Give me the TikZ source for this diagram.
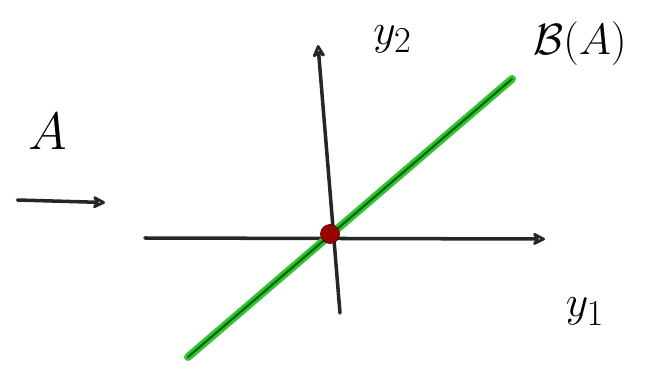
\documentclass[tikz,border=0pt]{standalone}
\usetikzlibrary{arrows.meta, positioning}

\begin{document}
\begin{tikzpicture}[
		% Estilo de los ejes
		eje/.style = {draw=black!85, line width=2pt, line cap=round},
		% Estilo de la recta imagen
		recta/.style = {draw=green!70!black!80, line width=4.5pt, line cap=round},
		etiqueta/.style = {font=\Huge, inner sep=1pt},
		>={Stealth[length=9pt, width=9pt, open, round]}
		]
		
		% --- MARCO ---
		\useasboundingbox (0,0) rectangle (13.04,7.38);
		
		% --- PUNTOS DE REFERENCIA ---
		\coordinate (origen) at (6.6,2.70);
		\coordinate (ejex_ini) at (2.9,2.62);
		\coordinate (ejex_fin) at (10.9,2.60);
		\coordinate (ejey_ini) at (6.8,1.12);
		\coordinate (ejey_fin) at (6.36,6.48);
		\coordinate (recta_ini) at (3.76,0.24);
		\coordinate (recta_fin) at (10.24,5.80);
		
		% --- EJES ---
		\draw [eje, ->] (ejex_ini) -- (ejex_fin);
		\draw [eje, ->] (ejey_ini) -- (ejey_fin);
		
		% --- RECTA B(A) ---
		\draw [recta] (recta_ini) -- (recta_fin);
		\draw [draw=black!60!green, line width=1.2pt, line cap=round] (recta_ini) -- (recta_fin);
		
		% --- ORIGEN ---
		\node [circle, fill=red!60!black, draw=red!40!black, minimum size=0.38cm, inner sep=0pt] (punto) at (origen) {};
		
		% --- ETIQUETAS ---
		\node [etiqueta] (y_dos) at (7.85,6.6) {$y_2$};
		\node [etiqueta] (y_uno) at (11.7,1.15) {$y_1$};
		\node [etiqueta] (imagen) at (11.6,6.5) {$\mathcal{B}(A)$};
		\node [font=\Huge, scale=1.2] (mat_a) at (0.95,4.75) {$A$};
		
		% --- FLECHA DE A ---
		\coordinate (flecha_ini) at (0.35,3.38);
		\coordinate [below=1.42cm of mat_a.center, xshift=1.15cm] (flecha_fin);
		\draw [eje, ->] (flecha_ini) -- (flecha_fin);
		
	\end{tikzpicture}
\end{document}
